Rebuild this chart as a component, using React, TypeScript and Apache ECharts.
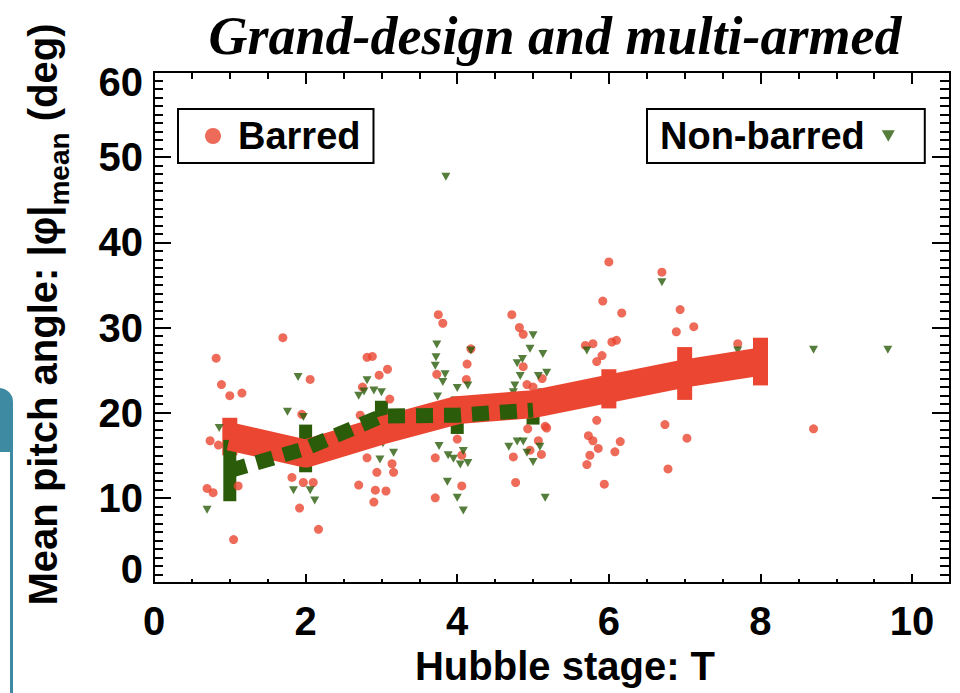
import React, { useEffect, useRef } from "react";
import * as echarts from "echarts";

const FONT = "'Liberation Sans', Arial, Helvetica, sans-serif";
const RED = "#ea4631";
const GREEN = "#2b5c0a";
const TRIANGLE = "path://M0,0L10,0L5,9Z";

const xTickLabels = [0, 2, 4, 6, 8, 10];
const yTickLabels = [0, 10, 20, 30, 40, 50, 60];

// Binned means (with errors) per Hubble stage
const barredMeanT = [1, 2, 3, 4, 5, 6, 7, 8];
const barredMean = [17.2, 15.2, 17.9, 20.3, 21.0, 22.8, 24.6, 26.0];
const barredErr = [2.2, 1.2, 1.0, 1.2, 1.0, 2.3, 3.1, 2.8];

const nonBarredMeanT = [1, 2, 3, 4, 5];
const nonBarredMean = [13.2, 15.8, 19.6, 19.7, 20.3];
const nonBarredErr = [3.6, 2.8, 1.8, 2.2, 1.7];

// Individual galaxies: [T, |phi| mean]
const barredPoints = [
  [1.7, 28.8], [0.82, 26.4], [0.89, 23.3], [1.0, 22.0], [1.16, 22.3], [2.06, 23.9],
  [0.74, 16.7], [0.85, 16.2], [0.7, 11.1], [0.78, 10.6], [1.05, 5.1], [1.11, 11.4],
  [1.95, 19.8], [1.82, 12.4], [1.92, 8.8], [1.97, 11.8], [2.1, 11.8], [2.17, 6.3],
  [2.81, 26.5], [2.88, 26.6], [2.97, 24.4], [3.08, 25.1], [2.72, 19.7], [2.75, 23.0],
  [2.81, 14.7], [2.94, 13.0], [3.14, 14.0], [3.16, 13.0], [2.7, 11.5], [2.92, 10.9],
  [3.06, 10.8], [2.9, 9.5], [3.11, 21.6], [3.73, 24.5], [3.75, 31.5], [3.81, 30.5],
  [3.71, 14.7], [3.71, 10.0], [4.06, 11.4], [4.0, 16.9], [4.06, 15.0], [4.13, 25.7],
  [4.18, 27.5], [4.12, 23.9], [4.72, 31.5], [4.82, 30.0], [4.87, 29.2], [4.87, 25.4],
  [4.92, 23.3], [5.0, 23.0], [5.12, 24.0], [5.16, 18.4], [4.93, 18.1], [5.07, 16.7],
  [5.11, 15.1], [4.96, 15.6], [4.74, 14.8], [4.77, 11.8], [5.18, 18.2], [5.84, 19.1],
  [5.73, 17.3], [5.79, 16.7], [6.15, 16.6], [6.08, 15.4], [5.86, 15.8], [5.75, 15.0],
  [5.71, 13.9], [5.94, 11.6], [6.0, 37.7], [6.7, 36.5], [5.92, 33.1], [6.17, 31.7],
  [6.94, 32.1], [7.12, 30.1], [6.89, 29.5], [5.69, 27.9], [5.79, 28.1], [6.04, 28.3],
  [6.1, 28.5], [5.91, 26.7], [5.84, 26.0], [7.7, 28.1], [6.74, 18.6], [7.03, 17.0],
  [6.78, 13.4], [8.7, 18.1],
];

const nonBarredPoints = [
  [0.7, 8.6], [0.86, 18.2], [1.9, 24.2], [1.76, 20.1], [1.97, 19.5], [1.84, 10.9],
  [2.06, 10.9], [2.12, 9.7], [2.81, 23.8], [2.7, 22.0], [2.77, 22.5], [2.9, 22.6],
  [3.0, 22.4], [3.02, 16.4], [2.98, 14.5], [3.16, 15.3], [3.73, 28.0], [3.72, 26.5],
  [3.71, 25.5], [3.84, 24.5], [3.81, 23.6], [4.18, 27.3], [4.0, 22.9], [4.14, 23.2],
  [3.74, 21.9], [3.8, 20.8], [3.76, 16.1], [3.88, 15.0], [3.95, 14.6], [4.04, 13.9],
  [4.14, 14.1], [4.08, 15.5], [3.87, 11.9], [4.0, 10.0], [4.08, 8.5], [3.85, 47.7],
  [5.0, 29.1], [4.96, 27.5], [5.13, 26.9], [4.86, 26.3], [4.79, 25.8], [4.83, 24.3],
  [5.07, 24.3], [5.18, 24.7], [4.76, 23.2], [4.74, 22.4], [5.12, 22.4], [4.68, 16.0],
  [4.79, 16.6], [4.87, 16.6], [4.92, 15.3], [5.0, 14.2], [5.09, 16.0], [5.16, 10.0],
  [5.71, 27.3], [6.7, 35.3], [7.7, 27.3], [8.7, 27.4], [9.68, 27.4],
];

const errorBars = (
  name: string,
  t: number[],
  m: number[],
  e: number[],
  color: string,
  width: number
) => ({
  type: "custom",
  name,
  silent: true,
  data: t.map((x, i) => [x, m[i] - e[i], m[i] + e[i]]),
  encode: { x: 0, y: [1, 2] },
  renderItem: (_params: any, api: any) => {
    const top = api.coord([api.value(0), api.value(2)]);
    const bot = api.coord([api.value(0), api.value(1)]);
    return {
      type: "rect",
      shape: { x: top[0] - width / 2, y: top[1], width, height: bot[1] - top[1] },
      style: { fill: color },
    };
  },
});

const tickLine = { color: "#000", width: 2 };
const AXIS_FONT = 40;
const labelFont = { fontFamily: FONT, fontWeight: "bold", fontSize: AXIS_FONT, color: "#000" };

const xAxisBase = (position: string, length: number, interval: number, labels: boolean) => ({
  type: "value",
  position,
  min: 0,
  max: 10.5,
  interval,
  splitLine: { show: false },
  axisLine: { show: true, onZero: false, lineStyle: tickLine },
  axisTick: { show: true, inside: true, length, lineStyle: tickLine },
  axisLabel: labels
    ? {
        show: true,
        margin: 18,
        ...labelFont,
        formatter: (v: number) => (xTickLabels.includes(v) ? String(v) : ""),
      }
    : { show: false },
});

const yAxisBase = (position: string, length: number, minorLength: number, labels: boolean) => ({
  type: "value",
  position,
  min: 0,
  max: 60,
  interval: 10,
  splitLine: { show: false },
  axisLine: { show: true, onZero: false, lineStyle: tickLine },
  axisTick: { show: true, inside: true, length, lineStyle: tickLine },
  minorTick: { show: true, splitNumber: 10, length: minorLength, lineStyle: tickLine },
  axisLabel: labels
    ? {
        show: true,
        margin: 11,
        ...labelFont,
        // first and last labels are nudged inward so they stay inside the frame height
        formatter: (v: number) => {
          if (!yTickLabels.includes(v)) return "";
          if (v === yTickLabels[0]) return `{lo|${v}}`;
          if (v === yTickLabels[yTickLabels.length - 1]) return `{hi|${v}}`;
          return String(v);
        },
        rich: {
          lo: { ...labelFont, padding: [0, 0, 28, 0] },
          hi: { ...labelFont, padding: [20, 0, 0, 0] },
        },
      }
    : { show: false },
});

export default function App() {
  const ref = useRef<HTMLDivElement>(null);

  useEffect(() => {
    if (!ref.current) return;
    const chart = echarts.init(ref.current, null, { renderer: "svg" });

    const bottomMajor: any = xAxisBase("bottom", 9, 2, true);
    bottomMajor.name = "Hubble stage: T";
    bottomMajor.nameLocation = "middle";
    bottomMajor.nameGap = 62;
    bottomMajor.nameTextStyle = { ...labelFont, padding: [0, 0, 0, 26] };

    const leftAxis: any = yAxisBase("left", 17, 9, true);
    leftAxis.name = "{a|Mean pitch angle: |φ|}{s|mean}{a| (deg)}";
    leftAxis.nameLocation = "middle";
    leftAxis.nameRotate = 90;
    leftAxis.nameGap = 91;
    leftAxis.nameTextStyle = {
      color: "#000",
      padding: [0, 0, 0, 26],
      rich: {
        a: { ...labelFont },
        s: {
          fontFamily: FONT,
          fontWeight: "bold",
          fontSize: 28,
          color: "#000",
          verticalAlign: "bottom",
          padding: [0, 0, -10, 0],
        },
      },
    };

    chart.setOption({
      animation: false,
      backgroundColor: "#fff",
      title: {
        text: "Grand-design and multi-armed",
        left: 550,
        textAlign: "center",
        top: 4,
        textStyle: {
          fontFamily: "'Liberation Serif', 'Times New Roman', serif",
          fontStyle: "italic",
          fontWeight: "bold",
          fontSize: 54,
          color: "#000",
        },
      },
      grid: { left: 154, top: 72, width: 796, height: 511 },
      legend: [
        {
          data: [{ name: "Barred", icon: "circle" }],
          left: 178,
          top: 109,
          selectedMode: false,
          itemWidth: 16,
          itemHeight: 16,
          padding: [8, 13, 8, 27],
          borderColor: "#000",
          borderWidth: 2,
          borderRadius: 0,
          textStyle: {
            color: "#000",
            fontFamily: FONT,
            fontWeight: "bold",
            fontSize: 38,
            padding: [0, 0, 0, 12],
          },
        },
        {
          data: [{ name: "Non-barred", icon: TRIANGLE }],
          left: 647,
          top: 109,
          align: "right",
          selectedMode: false,
          itemWidth: 13,
          itemHeight: 12,
          padding: [8, 30, 8, 13],
          borderColor: "#000",
          borderWidth: 2,
          borderRadius: 0,
          textStyle: {
            color: "#000",
            fontFamily: FONT,
            fontWeight: "bold",
            fontSize: 38,
            padding: [0, 12, 0, 0],
          },
        },
      ],
      xAxis: [
        xAxisBase("bottom", 4, 0.5, false),
        bottomMajor,
        xAxisBase("top", 7, 0.5, false),
        xAxisBase("top", 12, 2, false),
      ],
      yAxis: [leftAxis, yAxisBase("right", 18, 10, false)],
      graphic: [
        {
          type: "rect",
          shape: { x: -20, y: 388, width: 33, height: 400, r: 14 },
          style: { fill: "#3f8aa3" },
          z: 100,
        },
        {
          type: "rect",
          shape: { x: -5, y: 452, width: 15, height: 300 },
          style: { fill: "#fff" },
          z: 101,
        },
      ],
      series: [
        {
          type: "line",
          name: "Barred mean",
          data: barredMeanT.map((t, i) => [t, barredMean[i]]),
          symbol: "none",
          silent: true,
          lineStyle: { color: RED, width: 28, cap: "butt", join: "round" },
        },
        errorBars("Barred error", barredMeanT, barredMean, barredErr, RED, 15),
        {
          type: "line",
          name: "Non-barred mean",
          data: nonBarredMeanT.map((t, i) => [t, nonBarredMean[i]]),
          symbol: "none",
          silent: true,
          lineStyle: { color: GREEN, width: 15, type: [17, 11], cap: "butt" },
        },
        errorBars("Non-barred error", nonBarredMeanT, nonBarredMean, nonBarredErr, GREEN, 13),
        {
          type: "scatter",
          name: "Barred",
          data: barredPoints,
          symbol: "circle",
          symbolSize: 9,
          itemStyle: { color: RED },
        },
        {
          type: "scatter",
          name: "Non-barred",
          data: nonBarredPoints,
          symbol: TRIANGLE,
          symbolSize: [9, 8],
          itemStyle: { color: GREEN },
        },
      ],
    });

    return () => chart.dispose();
  }, []);

  return (
    <div
      ref={ref}
      style={{ position: "absolute", left: 0, top: 0, width: 960, height: 693, background: "#fff" }}
    />
  );
}
